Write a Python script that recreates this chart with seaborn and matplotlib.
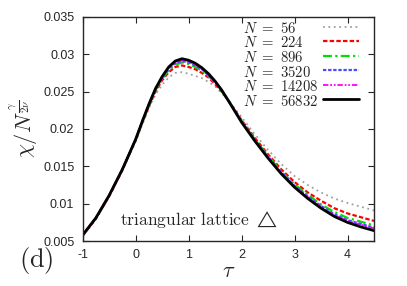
import numpy as np
import pandas as pd
import seaborn as sns
import matplotlib
matplotlib.use("Agg")
import matplotlib.pyplot as plt

tau = [-1, -0.75, -0.5, -0.25, 0, 0.125, 0.25, 0.375, 0.5, 0.625, 0.75, 0.875, 1, 1.125,
       1.25, 1.375, 1.5, 1.625, 1.75, 2, 2.25, 2.5, 2.75, 3, 3.25, 3.5, 3.75, 4, 4.25, 4.5]

chi_56 = [0.0056, 0.0079, 0.0109, 0.0144, 0.0183, 0.0206, 0.0228, 0.0246, 0.0259, 0.0269, 0.0275, 0.0276,
          0.0274, 0.0271, 0.0268, 0.0263, 0.0257, 0.0248, 0.0238, 0.0216, 0.0193, 0.0172, 0.0153, 0.0137,
          0.0125, 0.0115, 0.0107, 0.0101, 0.0096, 0.0091]
chi_224 = [0.0057, 0.0080, 0.0110, 0.0145, 0.0185, 0.0208, 0.0230, 0.0250, 0.0265, 0.0276, 0.0283, 0.0285,
           0.0283, 0.0280, 0.0275, 0.0269, 0.0260, 0.0250, 0.0238, 0.0212, 0.0188, 0.0166, 0.0146, 0.0129,
           0.0115, 0.0104, 0.0094, 0.0087, 0.0082, 0.0077]
chi_896 = [0.0058, 0.0081, 0.0111, 0.0146, 0.0185, 0.0209, 0.0231, 0.0252, 0.0267, 0.0279, 0.0286, 0.0289,
           0.0287, 0.0283, 0.0278, 0.0271, 0.0262, 0.0251, 0.0238, 0.0211, 0.0186, 0.0164, 0.0143, 0.0126,
           0.0112, 0.0099, 0.0089, 0.0081, 0.0076, 0.0071]
chi_3520 = [0.0058, 0.0081, 0.0111, 0.0146, 0.0186, 0.0210, 0.0232, 0.0253, 0.0268, 0.0281, 0.0288, 0.0291,
            0.0289, 0.0285, 0.0280, 0.0272, 0.0263, 0.0252, 0.0238, 0.0210, 0.0185, 0.0163, 0.0142, 0.0124,
            0.0110, 0.0097, 0.0086, 0.0078, 0.0073, 0.0068]
chi_14208 = [0.0058, 0.0081, 0.0111, 0.0146, 0.0186, 0.0210, 0.0233, 0.0253, 0.0269, 0.0282, 0.0289, 0.0292,
             0.0290, 0.0286, 0.0281, 0.0273, 0.0263, 0.0252, 0.0238, 0.0210, 0.0185, 0.0162, 0.0141, 0.0123,
             0.0109, 0.0096, 0.0085, 0.0077, 0.0072, 0.0067]
chi_56832 = [0.0058, 0.0081, 0.0111, 0.0146, 0.0186, 0.0210, 0.0233, 0.0254, 0.0270, 0.0283, 0.0291, 0.0294,
             0.0292, 0.0288, 0.0282, 0.0274, 0.0264, 0.0252, 0.0238, 0.0209, 0.0184, 0.0161, 0.0140, 0.0122,
             0.0107, 0.0094, 0.0083, 0.0075, 0.0069, 0.0064]

sizes = ["56", "224", "896", "3520", "14208", "56832"]
series = [chi_56, chi_224, chi_896, chi_3520, chi_14208, chi_56832]

colors = ["#a0a0a0", "#ff0000", "#00e000", "#4a4aff", "#ff00ff", "#000000"]
dashes = [(1, 2), (2, 1), (4, 1.5, 1, 1.5), (1.5, 0.8), (3, 1, 1, 1, 1, 1), ""]
widths = [1.3, 1.6, 1.6, 1.6, 1.3, 2.0]

sns.set_style("ticks")
plt.rcParams["mathtext.fontset"] = "cm"
plt.rcParams["font.family"] = ["Liberation Sans", "DejaVu Sans"]

fig = plt.figure(figsize=(4.07, 2.86), dpi=100)
ax = fig.add_axes([0.203, 0.157, 0.716, 0.784])

for n, vals, c, d, w in zip(sizes, series, colors, dashes, widths):
    df = pd.DataFrame({"tau": tau, "chi": vals})
    sns.lineplot(data=df, x="tau", y="chi", ax=ax, color=c, lw=w,
                 label=r"$N\ =\ %s$" % n)
    if d:
        ax.lines[-1].set_dashes(d)

ax.set_xlim(-1, 4.5)
ax.set_ylim(0.005, 0.035)
ax.set_xticks([-1, 0, 1, 2, 3, 4])
ax.set_xticklabels(["-1", "0", "1", "2", "3", "4"])
ax.set_yticks([0.005, 0.01, 0.015, 0.02, 0.025, 0.03, 0.035])
ax.set_yticklabels(["0.005", "0.01", "0.015", "0.02", "0.025", "0.03", "0.035"])
ax.tick_params(direction="in", top=True, right=True, length=4, width=0.8,
               labelsize=9, pad=6)
for s in ax.spines.values():
    s.set_linewidth(1.0)

ax.set_xlabel(r"$\tau$", fontsize=16, labelpad=0)
ax.set_ylabel(r"$\chi/N^{\frac{\gamma}{2\nu}}$", fontsize=16, labelpad=2)

# gnuplot style key: left aligned text, samples in one column on the right
handles, labels = ax.get_legend_handles_labels()
leg_kw = dict(frameon=False, fontsize=10.6, labelspacing=-0.03,
              borderaxespad=0.1, borderpad=0.1)
samples = ax.legend(handles, labels, loc="upper right", bbox_to_anchor=(0.959, 1.0),
                    markerfirst=False, handlelength=2.45, handletextpad=0.34, **leg_kw)
for t in samples.get_texts():
    t.set_alpha(0)
ax.add_artist(samples)
ax.legend(handles, labels, loc="upper left", bbox_to_anchor=(0.539, 0.995),
          handlelength=0, handletextpad=0, **leg_kw)

ax.text(0.40, 0.098, r"$\mathrm{triangular\ lattice}\ \triangle$", transform=ax.transAxes,
        ha="center", va="center", fontsize=12.6)
fig.text(0.09, 0.088, r"$(\mathrm{d})$", fontsize=19, ha="center", va="center")

fig.savefig("out.png", dpi=100)
